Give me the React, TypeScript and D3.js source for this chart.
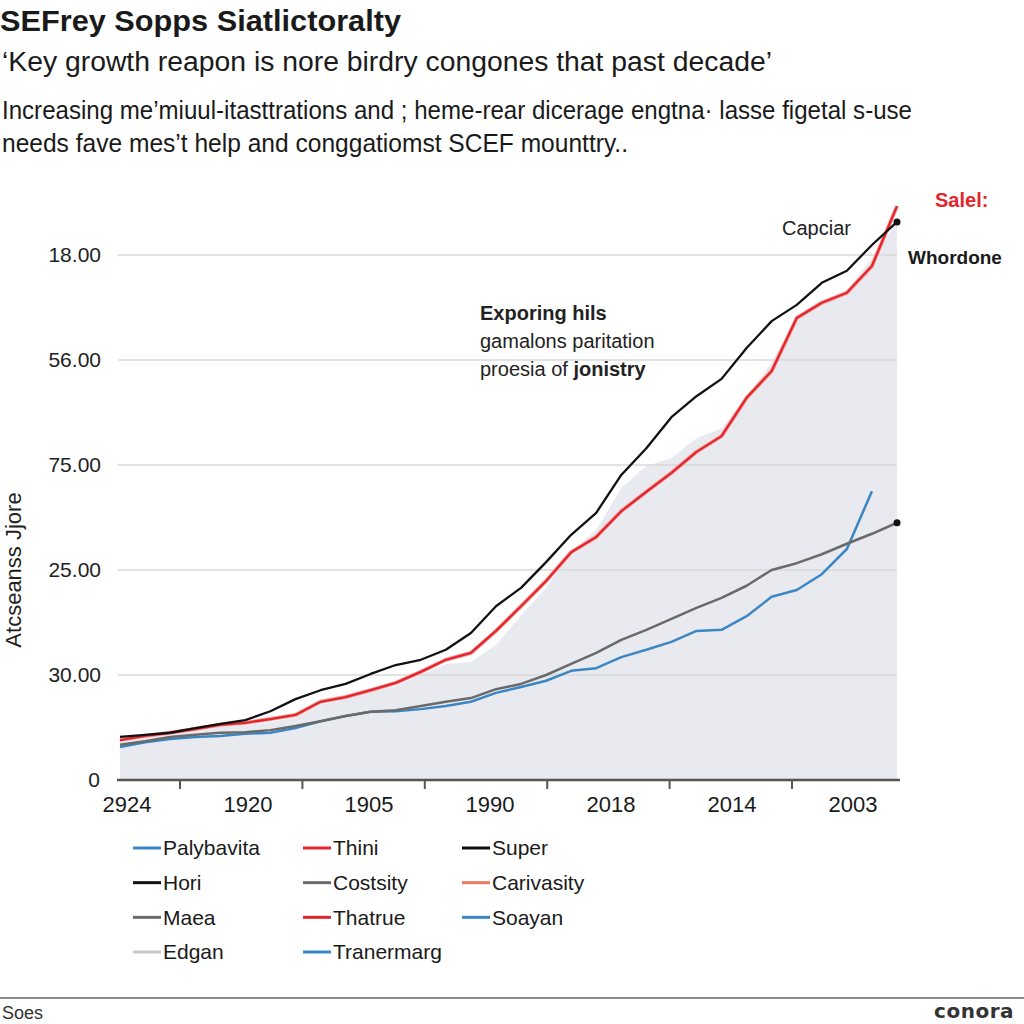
import React from "react";
import * as d3 from "d3";

// ---- data ----
const yTickValues = [0, 20, 40, 60, 80, 100];
const yTickLabels = ["0", "30.00", "25.00", "75.00", "56.00", "18.00"];
const xLabels = ["2924", "1920", "1905", "1990", "2018", "2014", "2003"];
const xTickSlots = [0, 1, 2, 3, 4, 5];

const superSeries = [8.2, 8.6, 9.0, 9.9, 10.7, 11.4, 13.1, 15.4, 17.1, 18.3, 20.2, 21.9, 22.9, 24.8, 28.0, 33.1, 36.6, 41.5, 46.7, 50.9, 58.1, 63.2, 69.1, 73.1, 76.4, 82.3, 87.4, 90.5, 94.7, 97.0, 101.9, 106.3];
const thiniSeries = [7.6, 8.4, 9.0, 9.7, 10.5, 10.9, 11.6, 12.4, 14.9, 15.8, 17.1, 18.5, 20.6, 22.9, 24.2, 28.4, 33.1, 37.9, 43.4, 46.3, 51.2, 54.9, 58.5, 62.5, 65.5, 72.8, 77.9, 88.0, 90.9, 92.8, 97.9, 109.3];
const costsitySeries = [6.7, 7.4, 8.2, 8.6, 9.0, 9.1, 9.5, 10.3, 11.2, 12.2, 13.0, 13.3, 14.1, 14.9, 15.6, 17.3, 18.3, 20.0, 22.1, 24.2, 26.7, 28.6, 30.7, 32.8, 34.7, 37.0, 40.0, 41.3, 43.0, 45.0, 46.9, 49.0];
const palybavitaSeries = [6.3, 7.2, 7.8, 8.2, 8.4, 8.8, 9.0, 9.9, 11.2, 12.2, 13.0, 13.1, 13.5, 14.1, 14.9, 16.6, 17.7, 18.9, 20.8, 21.3, 23.4, 24.8, 26.3, 28.4, 28.6, 31.2, 34.9, 36.2, 39.2, 44.0, 55.0];
const edganArea = [7.2, 8.0, 8.6, 9.3, 10.1, 10.5, 11.0, 12.0, 14.3, 15.4, 16.8, 17.9, 20.0, 22.1, 22.5, 25.7, 31.4, 36.6, 43.4, 47.6, 55.6, 59.8, 61.3, 65.1, 67.0, 72.8, 79.6, 88.0, 91.4, 93.3, 99.4, 106.3];

const legendNames = ["Palybavita", "Thini", "Super", "Hori", "Costsity", "Carivasity", "Maea", "Thatrue", "Soayan", "Edgan", "Tranermarg"];
const legendColors = ["#3b87c4", "#e3262c", "#111111", "#111111", "#6a6a6a", "#ea7a62", "#6a6a6a", "#e3262c", "#3b87c4", "#c9c9c9", "#3b87c4"];

const subtitleLines = [
  "Increasing me\u2019miuul-itasttrations and ; heme-rear dicerage engtna\u00b7 lasse figetal s-use",
  "needs fave mes\u2019t help and conggatiomst SCEF mounttry..",
];

const FONT = "'Liberation Sans', Arial, Helvetica, sans-serif";

export default function App() {
  const x = d3.scaleLinear().domain([0, 31]).range([120, 897]);
  const y = d3.scaleLinear().domain([0, 100]).range([780, 255]);
  const xLab = d3.scalePoint<string>().domain(xLabels).range([127, 853]);
  const xTick = d3.scaleLinear().domain([0, 5]).range([180, 792]);

  const line = d3
    .line<number>()
    .x((_, i) => x(i))
    .y((d) => y(d));
  const area = d3
    .area<number>()
    .x((_, i) => x(i))
    .y0(y(0))
    .y1((d) => y(d));

  const legCol = d3.scaleOrdinal<number, number>().domain([0, 1, 2]).range([133, 303, 462]);
  const legRow = d3.scaleLinear().domain([0, 3]).range([848, 952]);

  return (
    <svg width={1024} height={1024} style={{ position: "absolute", left: 0, top: 0, background: "#fff" }} fontFamily={FONT}>
      <rect x={0} y={0} width={1024} height={1024} fill="#fff" />
      {/* titles */}
      <text x={0} y={31} fontSize={29} fontWeight="bold" fill="#1a1a1a" textLength={401} lengthAdjust="spacingAndGlyphs">
        SEFrey Sopps Siatlictoralty
      </text>
      <text x={2} y={71} fontSize={27} fill="#1a1a1a" textLength={770} lengthAdjust="spacingAndGlyphs">
        {"\u2018Key growth reapon is nore birdry congones that past decade\u2019"}
      </text>
      <text x={2} y={119} fontSize={25} fill="#1a1a1a" textLength={910} lengthAdjust="spacingAndGlyphs">
        {subtitleLines[0]}
      </text>
      <text x={2} y={152} fontSize={25} fill="#1a1a1a" textLength={626} lengthAdjust="spacingAndGlyphs">
        {subtitleLines[1]}
      </text>

      {/* area */}
      <path d={area(edganArea) || ""} fill="#e8eaef" />

      {/* gridlines */}
      {yTickValues.slice(1).map((v) => (
        <line key={v} x1={118} x2={897} y1={y(v)} y2={y(v)} stroke="#d9d9d9" strokeWidth={1.5} />
      ))}

      {/* y tick labels */}
      {yTickValues.map((v, i) => (
        <text key={v} x={v === 0 ? 100 : 101} y={y(v)} dy="0.35em" textAnchor="end" fontSize={21} fill="#222">
          {yTickLabels[i]}
        </text>
      ))}
      <text transform="translate(21,570) rotate(-90)" textAnchor="middle" fontSize={22} fill="#222">
        Atcseanss Jjore
      </text>

      {/* lines */}
      <path d={line(palybavitaSeries) || ""} fill="none" stroke="#3b87c4" strokeWidth={2.5} strokeLinejoin="round" />
      <path d={line(costsitySeries) || ""} fill="none" stroke="#6a6a6a" strokeWidth={2.5} strokeLinejoin="round" />
      <path d={line(thiniSeries) || ""} fill="none" stroke="#f3a0a0" strokeWidth={4} strokeLinejoin="round" />
      <path d={line(thiniSeries) || ""} fill="none" stroke="#e3262c" strokeWidth={2.3} strokeLinejoin="round" />
      <path d={line(superSeries) || ""} fill="none" stroke="#111" strokeWidth={2.3} strokeLinejoin="round" />
      <circle cx={x(31)} cy={y(superSeries[31])} r={3.5} fill="#111" />
      <circle cx={x(31)} cy={y(costsitySeries[31])} r={3.5} fill="#111" />

      {/* x axis */}
      <line x1={117} x2={900} y1={y(0)} y2={y(0)} stroke="#555" strokeWidth={2.5} />
      {xTickSlots.map((t) => (
        <line key={t} x1={xTick(t)} x2={xTick(t)} y1={y(0)} y2={y(0) + 9} stroke="#555" strokeWidth={2} />
      ))}
      {xLabels.map((l) => (
        <text key={l} x={xLab(l)} y={812} textAnchor="middle" fontSize={22} fill="#1a1a1a">
          {l}
        </text>
      ))}

      {/* annotations */}
      <text x={480} y={320} fontSize={20} fontWeight="bold" fill="#222">Exporing hils</text>
      <text x={480} y={348} fontSize={20} fill="#222">gamalons paritation</text>
      <text x={480} y={376} fontSize={20} fill="#222">
        proesia of <tspan fontWeight="bold">jonistry</tspan>
      </text>
      <text x={782} y={235} fontSize={20} fill="#222">Capciar</text>
      <text x={935} y={207} fontSize={20} fontWeight="bold" fill="#e3262c">Salel:</text>
      <text x={908} y={264} fontSize={19} fontWeight="bold" fill="#1a1a1a">Whordone</text>

      {/* legend */}
      {legendNames.map((n, i) => {
        const cx = legCol(i % 3);
        const cy = legRow(Math.floor(i / 3));
        return (
          <g key={n}>
            <line x1={cx} x2={cx + 28} y1={cy} y2={cy} stroke={legendColors[i]} strokeWidth={3} />
            <text x={cx + 30} y={cy} dy="0.35em" fontSize={21} fill="#1a1a1a">
              {n}
            </text>
          </g>
        );
      })}

      {/* footer */}
      <line x1={0} x2={1024} y1={998} y2={998} stroke="#8a8a8a" strokeWidth={2} />
      <text x={2} y={1019} fontSize={18} fill="#333">Soes</text>
      <text x={1014} y={1018} textAnchor="end" fontSize={20} fontWeight="bold" fill="#333" fontFamily="'DejaVu Sans', sans-serif" letterSpacing={0.5}>
        conora
      </text>
    </svg>
  );
}
